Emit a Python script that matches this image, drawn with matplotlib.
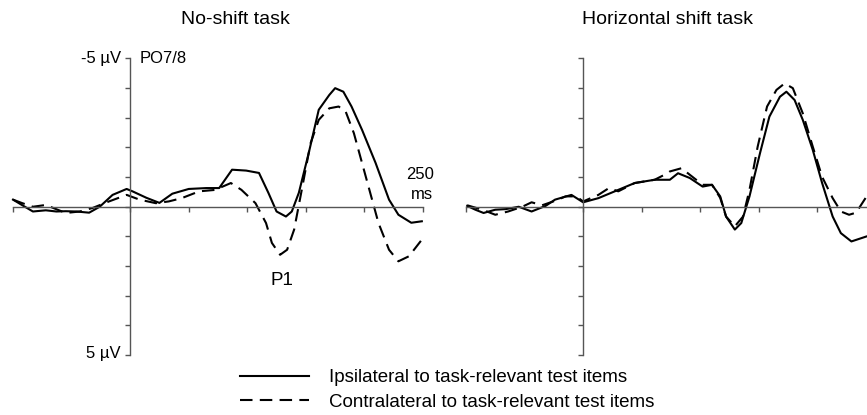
import matplotlib

matplotlib.use("Agg")
import matplotlib.pyplot as plt
from matplotlib.lines import Line2D

plt.rcParams["font.family"] = ["Liberation Sans", "DejaVu Sans"]

# time in ms, amplitude in microvolts (negative plotted upward)
noshift_ipsi_t = [-100, -92, -83, -72, -63, -55, -46, -35, -26, -15, -3, 2, 14, 25, 36,
                  50, 65, 76, 87, 99, 110, 118, 125, 133, 138, 144, 152.5, 161, 170,
                  175, 182, 189, 198, 209.5, 221, 229, 240, 249]
noshift_ipsi_v = [-0.24, -0.05, 0.16, 0.12, 0.16, 0.15, 0.16, 0.2, 0.0, -0.4, -0.6, -0.52,
                  -0.3, -0.13, -0.44, -0.6, -0.63, -0.63, -1.25, -1.22, -1.14, -0.47,
                  0.16, 0.33, 0.16, -0.47, -1.82, -3.27, -3.77, -4.0, -3.88, -3.38,
                  -2.59, -1.48, -0.24, 0.27, 0.54, 0.49]

noshift_contra_t = [-100, -92, -83, -72, -55, -43, -32, -18, -3, 8, 22, 33, 44, 59, 73,
                    76, 86, 95, 107, 116, 121, 128, 134, 140, 146.5, 154, 161, 170,
                    178, 184, 191, 198, 205, 212, 221, 229, 238, 249]
noshift_contra_v = [-0.24, -0.12, 0.0, -0.06, 0.21, 0.16, 0.04, -0.18, -0.4, -0.24, -0.12,
                    -0.18, -0.29, -0.52, -0.57, -0.63, -0.8, -0.57, -0.12, 0.55, 1.22,
                    1.62, 1.45, 0.77, -0.57, -2.14, -2.93, -3.32, -3.38, -3.21, -2.48,
                    -1.47, -0.46, 0.55, 1.45, 1.84, 1.67, 1.11]

shift_ipsi_t = [-99, -92, -85, -75, -66, -55, -44, -32, -24, -10, 0, 13, 27, 44, 61, 74,
                81, 91, 102, 110, 117, 122, 129.5, 135, 142, 151, 159, 168, 173.5,
                180.5, 187.5, 196, 204, 213, 220, 229, 242, 250]
shift_ipsi_v = [-0.03, 0.1, 0.21, 0.1, 0.08, 0.0, 0.16, -0.03, -0.24, -0.4, -0.15, -0.29,
                -0.52, -0.8, -0.91, -0.91, -1.13, -0.97, -0.68, -0.74, -0.35, 0.33,
                0.77, 0.55, -0.35, -1.81, -3.04, -3.71, -3.88, -3.6, -2.93, -1.92,
                -0.8, 0.33, 0.89, 1.17, 1.0, 0.95]

shift_contra_t = [-99, -86, -75, -64, -52, -44, -35, -24, -15, -6, 0, 13, 22, 30, 44, 61,
                  72, 74, 84, 91, 102, 110, 117, 122, 129.5, 136.5, 142, 149, 157, 165,
                  172, 179, 187.5, 196, 204, 213, 220, 227, 233, 242, 250]
shift_contra_v = [-0.05, 0.1, 0.27, 0.16, 0.0, -0.15, -0.05, -0.2, -0.35, -0.35, -0.18,
                  -0.4, -0.63, -0.52, -0.8, -0.91, -1.13, -1.19, -1.3, -1.08, -0.74,
                  -0.74, -0.3, 0.33, 0.66, 0.33, -0.57, -2.03, -3.38, -3.94, -4.16,
                  -4.0, -3.15, -2.03, -1.01, -0.29, 0.16, 0.27, 0.2, -0.35, -0.8]

x_ticks = [-100, 0, 50, 100, 150, 200, 250]
y_ticks = [-5, -4, -3, -2, -1, 0, 1, 2, 3, 4, 5]
titles = ["No-shift task", "Horizontal shift task"]
legend_labels = ["Ipsilateral to task-relevant test items",
                 "Contralateral to task-relevant test items"]

W, H = 867, 415
AXIS_COLOR = "#555555"
DASHES = (6, 3.5)


def setup_axes(ax):
    ax.set_xlim(-100, 250)
    ax.set_ylim(5, -5)
    for side in ("top", "right"):
        ax.spines[side].set_visible(False)
    ax.spines["left"].set_position(("data", 0))
    ax.spines["bottom"].set_position(("data", 0))
    for side in ("left", "bottom"):
        ax.spines[side].set_color(AXIS_COLOR)
        ax.spines[side].set_linewidth(1.0)
    ax.set_xticks(x_ticks)
    ax.set_yticks(y_ticks)
    ax.tick_params(axis="both", direction="out", length=3.5, width=1.0,
                   color=AXIS_COLOR, labelbottom=False, labelleft=False)
    ax.patch.set_alpha(0)


fig = plt.figure(figsize=(W / 100, H / 100), dpi=100)
ax_w = 410 / W
ax_h = (355 - 58.5) / H
ax_b = 1 - 355 / H
ax1 = fig.add_axes([13 / W, ax_b, ax_w, ax_h])
ax2 = fig.add_axes([466 / W, ax_b, ax_w, ax_h])
for ax in (ax1, ax2):
    setup_axes(ax)

ax1.plot(noshift_ipsi_t, noshift_ipsi_v, color="black", lw=1.5, clip_on=False)
ax1.plot(noshift_contra_t, noshift_contra_v, color="black", lw=1.5, dashes=DASHES, clip_on=False)
ax2.plot(shift_ipsi_t, shift_ipsi_v, color="black", lw=1.5, clip_on=False)
ax2.plot(shift_contra_t, shift_contra_v, color="black", lw=1.5, dashes=DASHES, clip_on=False)

ax1.text(-7.7, -5, "-5 µV", ha="right", va="center", fontsize=12)
ax1.text(7.7, -5, "PO7/8", ha="left", va="center", fontsize=12)
ax1.text(-7.7, 4.95, "5 µV", ha="right", va="center", fontsize=12)
ax1.text(259, -1.1, "250", ha="right", va="center", fontsize=12, clip_on=False)
ax1.text(259, -0.4, "ms", ha="right", va="center", fontsize=12, clip_on=False)
ax1.text(129.5, 2.49, "P1", ha="center", va="center", fontsize=13.5)

fig.text(235 / W, 1 - 19 / H, titles[0], ha="center", va="center", fontsize=14)
fig.text(668 / W, 1 - 19 / H, titles[1], ha="center", va="center", fontsize=14)

handles = [Line2D([], [], color="black", lw=1.5),
           Line2D([], [], color="black", lw=1.5, dashes=DASHES)]
fig.legend(handles, legend_labels, loc="upper left",
           bbox_to_anchor=(240 / W, 1 - 369 / H), frameon=False, fontsize=13.5,
           handlelength=3.7, handletextpad=1.05, labelspacing=0.4,
           borderpad=0, borderaxespad=0)

fig.savefig("out.png", dpi=100)
